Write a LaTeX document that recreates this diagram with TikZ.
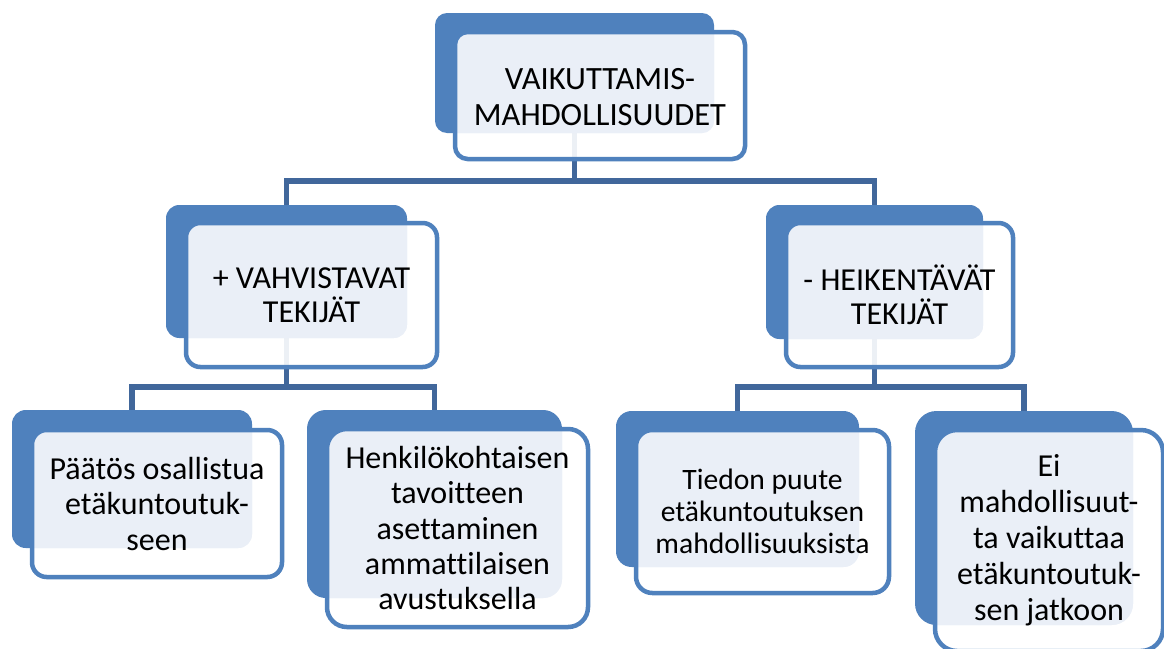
\documentclass[tikz,border=0pt]{standalone}
\usepackage{fontspec}
\setmainfont{Carlito}[Ligatures={NoCommon}]
\usetikzlibrary{calc}
\pgfdeclarelayer{bg}
\pgfsetlayers{bg,main}
\definecolor{boxblue}{HTML}{4F81BD}
\definecolor{linkblue}{HTML}{41679B}
\definecolor{veilcolor}{HTML}{EAEFF7}

\tikzset{
  backbox/.style={fill=boxblue, draw=none, inner sep=0pt, outer sep=0pt},
  frontbox/.style={fill=white, fill opacity=0.9, draw=none, inner sep=0pt, outer sep=0pt},
  frontline/.style={draw=boxblue, line width=4.5pt},
  veilfill/.style={fill=veilcolor},
  link/.style={draw=linkblue, line width=5.5pt},
  boxtext/.style={align=center, text=black, inner sep=0pt},
}

% Two overlapping rounded boxes: a solid one behind, an outlined one in front.
% #1 name, #2-#5 back box (left, top, right, bottom), #6-#9 front box
\newcommand\orgbox[9]{%
  \pgfmathsetmacro\bw{#4-#2}\pgfmathsetmacro\bh{#5-#3}%
  \pgfmathsetmacro\fw{#8-#6}\pgfmathsetmacro\fh{#9-#7}%
  \pgfmathsetmacro\br{0.1*min(\bw,\bh)}\pgfmathsetmacro\fr{0.1*min(\fw,\fh)}%
  \node[backbox, rounded corners=\br pt, minimum width=\bw pt, minimum height=\bh pt, anchor=north west] (#1-back) at (#2,#3) {};
  \node[frontbox, rounded corners=\fr pt, minimum width=\fw pt, minimum height=\fh pt, anchor=north west] (#1-front) at (#6,#7) {};
  \begin{scope}
    \clip[rounded corners=\fr pt] (#1-front.north west) rectangle (#1-front.south east);
    \fill[veilfill, rounded corners=\br pt] (#1-back.north west) rectangle (#1-back.south east);
  \end{scope}
  \draw[frontline, rounded corners=\fr pt] (#1-front.north west) rectangle (#1-front.south east);
}

\begin{document}
\begin{tikzpicture}[x=1pt, y=-1pt]
\useasboundingbox (0,0) rectangle (1164,648);

% boxes
\orgbox{top}{435}{13}{714}{133}{455}{32}{745}{159}
\orgbox{l1}{166}{205}{407}{338}{186}{223}{437}{367}
\orgbox{r1}{766}{205}{983}{339}{786}{223}{1013}{367}
\orgbox{ll}{12}{410}{252}{548}{32}{430}{282}{577}
\orgbox{lr}{307}{410}{562}{598}{327}{429}{588}{627}
\orgbox{rl}{616}{411}{859}{567}{636}{430}{889}{593}
\orgbox{rr}{915}{411}{1133}{625}{935}{430}{1163}{651}

% labels
\node[boxtext, font=\fontsize{32.5}{35.5}\selectfont] (top-text) at ([yshift=-1.5pt]top-front.center) {VAIKUTTAMIS-\\MAHDOLLISUUDET};
\node[boxtext, font=\fontsize{32}{34}\selectfont] (l1-text) at (l1-front.center) {+ VAHVISTAVAT\\TEKIJÄT};
\node[boxtext, font=\fontsize{32}{34}\selectfont] (r1-text) at (r1-front.center) {- HEIKENTÄVÄT\\TEKIJÄT};
\node[boxtext, font=\fontsize{32}{35.5}\selectfont] (ll-text) at (ll-front.center) {Päätös osallistua\\etäkuntoutuk-\\seen};
\node[boxtext, font=\fontsize{32}{35.3}\selectfont] (lr-text) at (lr-front.center) {Henkilökohtaisen\\tavoitteen\\asettaminen\\ammattilaisen\\avustuksella};
\node[boxtext, font=\fontsize{29.6}{32}\selectfont] (rl-text) at (rl-front.center) {Tiedon puute\\etäkuntoutuksen\\mahdollisuuksista};
\node[boxtext, font=\fontsize{32}{36}\selectfont] (rr-text) at (rr-front.center) {Ei\\mahdollisuut-\\ta vaikuttaa\\etäkuntoutuk-\\sen jatkoon};

% connectors, drawn beneath the boxes
\begin{pgfonlayer}{bg}
  \fill[white] (0,0) rectangle (1164,648);
  \coordinate (bus1) at (0,181);
  \coordinate (bus2) at (0,387);
  \draw[link] (top-back.center) -- (top-back.center |- bus1) -| (l1-back.north);
  \draw[link] (top-back.center |- bus1) -| (r1-back.north);
  \draw[link] (l1-back.center) -- (l1-back.center |- bus2) -| (ll-back.north);
  \draw[link] (l1-back.center |- bus2) -| (lr-back.north);
  \draw[link] (r1-back.center) -- (r1-back.center |- bus2) -| (rl-back.north);
  \draw[link] (r1-back.center |- bus2) -| (rr-back.north);
\end{pgfonlayer}
\end{tikzpicture}
\end{document}
